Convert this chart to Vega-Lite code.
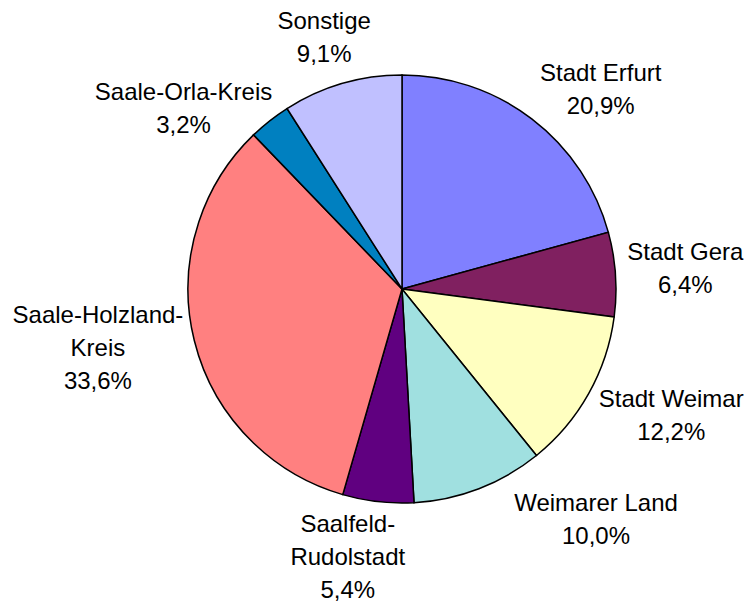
{
  "$schema": "https://vega.github.io/schema/vega-lite/v6.json",
  "width": 688,
  "height": 578,
  "autosize": "none",
  "padding": {"left": 58, "top": 0, "right": 0, "bottom": 25},
  "background": "white",
  "view": {"stroke": null},
  "data": {
    "values": [
      {"idx": 1, "region": "Stadt Erfurt", "share": 20.9, "label": ["Stadt Erfurt", "20,9%"]},
      {"idx": 2, "region": "Stadt Gera", "share": 6.4, "label": ["Stadt Gera", "6,4%"]},
      {"idx": 3, "region": "Stadt Weimar", "share": 12.2, "label": ["Stadt Weimar", "12,2%"]},
      {"idx": 4, "region": "Weimarer Land", "share": 10.0, "label": ["Weimarer Land", "10,0%"]},
      {"idx": 5, "region": "Saalfeld-Rudolstadt", "share": 5.4, "label": ["Saalfeld-", "Rudolstadt", "5,4%"]},
      {"idx": 6, "region": "Saale-Holzland-Kreis", "share": 33.6, "label": ["Saale-Holzland-", "Kreis", "33,6%"]},
      {"idx": 7, "region": "Saale-Orla-Kreis", "share": 3.2, "label": ["Saale-Orla-Kreis", "3,2%"]},
      {"idx": 8, "region": "Sonstige", "share": 9.1, "label": ["Sonstige", "9,1%"]}
    ]
  },
  "encoding": {
    "theta": {"field": "share", "type": "quantitative", "stack": true},
    "order": {"field": "idx", "type": "quantitative"}
  },
  "layer": [
    {
      "mark": {"type": "arc", "radius": 214, "stroke": "black", "strokeWidth": 1.5},
      "encoding": {
        "color": {
          "field": "region",
          "type": "nominal",
          "scale": {
            "domain": ["Stadt Erfurt", "Stadt Gera", "Stadt Weimar", "Weimarer Land", "Saalfeld-Rudolstadt", "Saale-Holzland-Kreis", "Saale-Orla-Kreis", "Sonstige"],
            "range": ["#8080FF", "#802060", "#FFFFC0", "#A0E0E0", "#600080", "#FF8080", "#0080C0", "#C0C0FF"]
          },
          "legend": null
        }
      }
    },
    {
      "mark": {"type": "text", "radius": 281, "thetaOffset": 0.134, "dy": -16.5, "fontSize": 24, "font": "Liberation Sans", "lineHeight": 33, "color": "black"},
      "encoding": {"text": {"condition": {"test": "datum.region === 'Stadt Erfurt'", "field": "label", "type": "nominal"}, "value": ""}}
    },
    {
      "mark": {"type": "text", "radius": 284, "thetaOffset": 0, "dy": -16.5, "fontSize": 24, "font": "Liberation Sans", "lineHeight": 33, "color": "black"},
      "encoding": {"text": {"condition": {"test": "datum.region === 'Stadt Gera'", "field": "label", "type": "nominal"}, "value": ""}}
    },
    {
      "mark": {"type": "text", "radius": 298, "thetaOffset": -0.068, "dy": -16.5, "fontSize": 24, "font": "Liberation Sans", "lineHeight": 33, "color": "black"},
      "encoding": {"text": {"condition": {"test": "datum.region === 'Stadt Weimar'", "field": "label", "type": "nominal"}, "value": ""}}
    },
    {
      "mark": {"type": "text", "radius": 302, "thetaOffset": -0.33, "dy": -16.5, "fontSize": 24, "font": "Liberation Sans", "lineHeight": 33, "color": "black"},
      "encoding": {"text": {"condition": {"test": "datum.region === 'Weimarer Land'", "field": "label", "type": "nominal"}, "value": ""}}
    },
    {
      "mark": {"type": "text", "radius": 274, "thetaOffset": 0.087, "dy": -33, "fontSize": 24, "font": "Liberation Sans", "lineHeight": 33, "color": "black"},
      "encoding": {"text": {"condition": {"test": "datum.region === 'Saalfeld-Rudolstadt'", "field": "label", "type": "nominal"}, "value": ""}}
    },
    {
      "mark": {"type": "text", "radius": 310, "thetaOffset": 0.047, "dy": -33, "fontSize": 24, "font": "Liberation Sans", "lineHeight": 33, "color": "black"},
      "encoding": {"text": {"condition": {"test": "datum.region === 'Saale-Holzland-Kreis'", "field": "label", "type": "nominal"}, "value": ""}}
    },
    {
      "mark": {"type": "text", "radius": 283, "thetaOffset": -0.215, "dy": -16.5, "fontSize": 24, "font": "Liberation Sans", "lineHeight": 33, "color": "black"},
      "encoding": {"text": {"condition": {"test": "datum.region === 'Saale-Orla-Kreis'", "field": "label", "type": "nominal"}, "value": ""}}
    },
    {
      "mark": {"type": "text", "radius": 262, "thetaOffset": -0.018, "dy": -16.5, "fontSize": 24, "font": "Liberation Sans", "lineHeight": 33, "color": "black"},
      "encoding": {"text": {"condition": {"test": "datum.region === 'Sonstige'", "field": "label", "type": "nominal"}, "value": ""}}
    }
  ]
}
